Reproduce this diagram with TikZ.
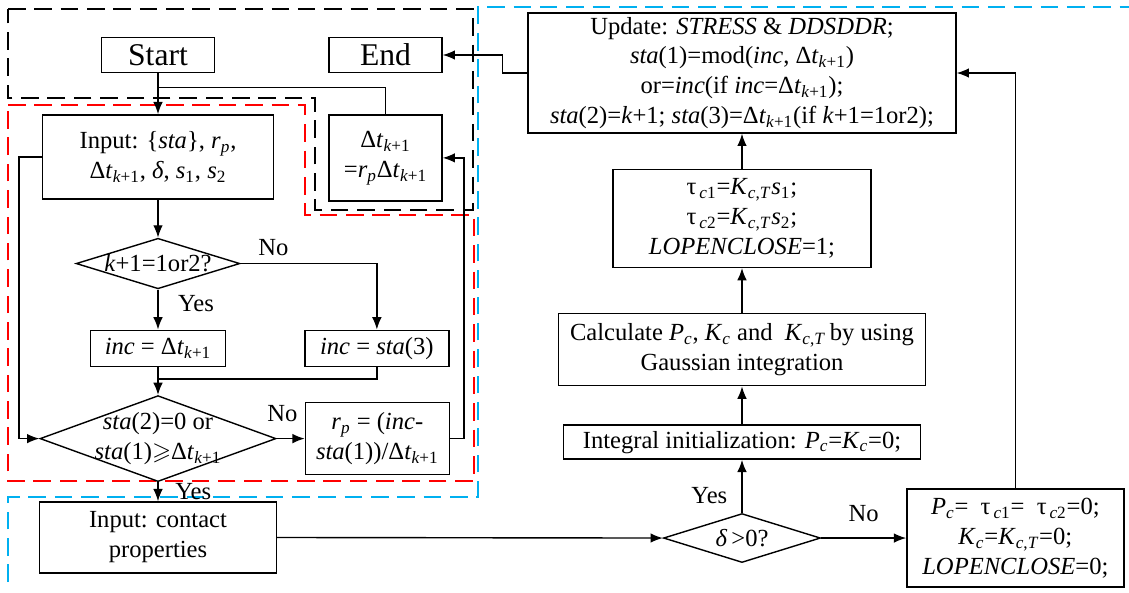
\documentclass[tikz,border=0pt]{standalone}
\usepackage{fontspec}
\setmainfont{Liberation Serif}
\usepackage{amssymb}
\usetikzlibrary{shapes.geometric,arrows.meta,positioning,calc}
\definecolor{skyblue}{RGB}{0,176,240}
\tikzstyle{box}=[rectangle,draw=black,thick,inner sep=2pt,align=center,font=\fontsize{14}{17}\selectfont]
\tikzstyle{bigbox}=[box,font=\fontsize{18}{22}\selectfont]
\tikzstyle{decision}=[diamond,draw=black,thick,inner sep=0pt,align=center,font=\fontsize{14}{17}\selectfont]
\tikzstyle{flow}=[-{Latex[length=7pt,width=5.5pt]},thick]
\tikzstyle{link}=[thick]
\tikzstyle{lab}=[inner sep=1pt,align=center,font=\fontsize{14}{17}\selectfont]
\tikzstyle{zone}=[dash pattern=on 10pt off 5pt,line width=0.75pt]
\newcommand{\sbs}[1]{\textsubscript{#1}}
\newcommand{\dtk}{Δ\textit{t}\sbs{\textit{k}+1}}

\begin{document}
\begin{tikzpicture}[x=0.02cm,y=-0.02cm]
    \useasboundingbox (0,0) rectangle (1129,592);

    % Rahmen
    \draw[zone] (8,9) -- (473,9) -- (473,210) -- (315,210) -- (315,98) -- (8,98) -- cycle;
    \draw[zone,red] (8,105) -- (305,105) -- (305,215) -- (474,215) -- (474,481) -- (8,481) -- cycle;
    \draw[zone,skyblue] (8,582) -- (8,497) -- (478,497) -- (478,7) -- (1129,7);

    % Knoten links
    \node[bigbox, minimum width=2.26cm, minimum height=0.70cm] (start) at (158,55) {Start};
    \node[bigbox, minimum width=2.26cm, minimum height=0.70cm] (fin) at (385.5,55) {End};
    \node[box, minimum width=4.62cm, minimum height=1.68cm] (input) [below=0.82cm of start] {Input: \{\textit{sta}\}, \textit{r}\sbs{\textit{p}},\\\dtk, \textit{δ}, \textit{s}\sbs{1}, \textit{s}\sbs{2}};
    \node[box, minimum width=2.26cm, minimum height=1.72cm] (dt) [below=0.82cm of fin] {\dtk\\=\textit{r}\sbs{\textit{p}}\dtk};
    \node[decision, aspect=3.24, minimum width=3.18cm, minimum height=0.98cm] (q1) [below=0.76cm of input] {\textit{k}+1=1or2?};
    \node[box, minimum width=2.70cm, minimum height=0.72cm] (inc1) [below=0.8cm of q1] {\textit{inc} = \dtk};
    \node[box, minimum width=2.88cm, minimum height=0.72cm] (inc2) [right=1.56cm of inc1] {\textit{inc} = \textit{sta}(3)};
    \node[decision, minimum width=4.72cm, minimum height=1.72cm] (q2) [below=0.56cm of inc1] {};
    \node[lab] (q2text) at (q2) {\textit{sta}(2)=0 or\\\textit{sta}(1)$\geqslant$\dtk};
    \node[box, minimum width=2.88cm, minimum height=1.44cm] (rp) [right=0.56cm of q2] {\textit{r}\sbs{\textit{p}} = (\textit{inc}-\\\textit{sta}(1))/\dtk};
    \node[box, minimum width=4.74cm, minimum height=1.42cm] (contact) [below=0.38cm of q2] {Input: contact\\properties};

    % Knoten rechts
    \node[box, minimum width=8.56cm, minimum height=2.40cm] (upd) at (742,73) {Update: \textit{STRESS} \& \textit{DDSDDR};\\\textit{sta}(1)=mod(\textit{inc}, \dtk)\\or=\textit{inc}(if \textit{inc}=\dtk);\\\textit{sta}(2)=\textit{k}+1; \textit{sta}(3)=\dtk(if \textit{k}+1=1or2);};
    \node[box, minimum width=5.16cm, minimum height=1.96cm] (tau) [below=0.70cm of upd] {τ\sbs{\,\textit{c}1}=\textit{K}\sbs{\textit{c},\textit{T}}\textit{s}\sbs{1};\\τ\sbs{\,\textit{c}2}=\textit{K}\sbs{\textit{c},\textit{T}}\textit{s}\sbs{2};\\\textit{LOPENCLOSE}=1;};
    \node[box, minimum width=7.34cm, minimum height=1.44cm] (calc) [below=0.9cm of tau] {Calculate \textit{P}\sbs{\textit{c}}, \textit{K}\sbs{\textit{c}} and~ \textit{K}\sbs{\textit{c},\textit{T}}\,by using\\Gaussian integration};
    \node[box, minimum width=7.14cm, minimum height=0.68cm] (integ) [below=0.76cm of calc] {Integral initialization: \textit{P}\sbs{\textit{c}}=\textit{K}\sbs{\textit{c}}=0;};
    \node[decision, aspect=3.2, minimum width=3.14cm, minimum height=0.98cm] (q3) [below=1.06cm of integ] {\textit{δ}\,>0?};
    \node[box, minimum width=4.34cm, minimum height=1.96cm] (zero) [right=1.7cm of q3] {\textit{P}\sbs{\textit{c}}=~ τ\sbs{\,\textit{c}1}=~ τ\sbs{\,\textit{c}2}=0;\\\textit{K}\sbs{\textit{c}}=\textit{K}\sbs{\textit{c},\textit{T}}=0;\\\textit{LOPENCLOSE}=0;};

    \coordinate (j1) at ($(start.south)!0.35!(input.north)$);
    \coordinate (j2) at ($(inc1.south)!0.43!(q2.north)$);

    % Verbindungen
    \draw [flow] (start) -- (input);
    \draw [link] (dt.north) |- (j1);
    \draw [flow] (upd.west) -- ++(-25,0) |- (fin.east);
    \draw [flow] (input) -- (q1);
    \draw [flow] (q1.east) -| node[lab, above=3pt, pos=0.12] {No} (inc2);
    \draw [flow] (q1) -- node[lab, right=10pt, pos=0.36] {Yes} (inc1);
    \draw [flow] (inc1) -- (q2);
    \draw [link] (inc2.south) |- (j2);
    \draw [flow] (input.west) -- ++(-23,0) |- (q2.west);
    \draw [flow] (q2) -- node[lab, above=8pt, pos=0.2] {No} (rp);
    \draw [flow] (rp.east) -- ++(14,0) |- (dt.east);
    \draw [flow] (q2) -- node[lab, right=8.5pt] {Yes} (contact);
    \draw [flow] (contact.east) -- (q3.west);
    \draw [flow] (q3) -- node[lab, above=8pt] {No} (zero);
    \draw [flow] (q3) -- node[lab, left=7pt, pos=0.33] {Yes} (integ);
    \draw [flow] (integ) -- (calc);
    \draw [flow] (calc) -- (tau);
    \draw [flow] (tau) -- (upd);
    \draw [flow] (zero.north) |- (upd.east);

\end{tikzpicture}
\end{document}
